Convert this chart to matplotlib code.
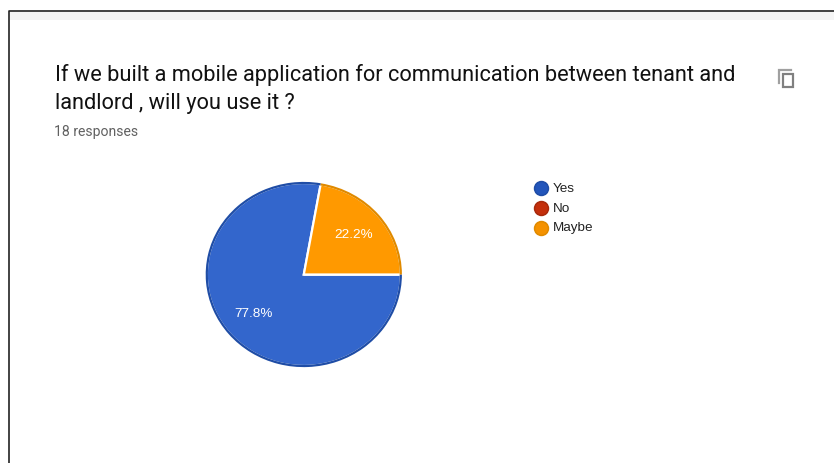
import matplotlib
matplotlib.use("Agg")
import matplotlib.pyplot as plt
from matplotlib.patches import Arc, Rectangle

W, H = 834, 463

title_lines = ["If we built a mobile application for communication between tenant and",
               "landlord , will you use it ?"]
subtitle = "18 responses"
categories = ["Yes", "No", "Maybe"]
counts = [14, 0, 4]
colors = ["#3366cc", "#dc3912", "#ff9900"]
edge_colors = ["#1f4da6", "#a82a0c", "#e08a00"]
marker_colors = ["#2255bb", "#c42f0c", "#f59200"]

fig = plt.figure(figsize=(W / 100, H / 100), dpi=100, facecolor="white")

# Page layer addressed in pixels, origin at top left
page = fig.add_axes([0, 0, 1, 1])
page.set_xlim(0, W)
page.set_ylim(H, 0)
page.axis("off")

# Card frame and the pale band under its top edge
page.add_patch(Rectangle((10, 12), W - 10, 8, fc="#f5f5f5", ec="none"))
page.plot([W, 9.5, 9.5], [11, 11, H], color="#222222", lw=1.2, solid_capstyle="butt")

page.text(55, 75.5, title_lines[0], family="Roboto", fontsize=15.67, color="#111111", va="center")
page.text(55, 103, title_lines[1], family="Roboto", fontsize=15.67, color="#111111", va="center")
page.text(54.5, 132, subtitle, family="Roboto", fontsize=10.1, color="#616161", va="center")

# Copy icon: back sheet outline and front sheet
page.plot([779, 779, 791], [83, 70, 70], color="#a0a0a0", lw=1.6, solid_joinstyle="miter")
page.add_patch(Rectangle((783, 73.5), 10.5, 13, fc="white", ec="#808080", lw=1.6))

# Legend
legend_y = [188, 208, 227.5]
for name, fc, ec, y in zip(categories, marker_colors, edge_colors, legend_y):
    page.plot(541.5, y, "o", ms=10, mfc=fc, mec=ec, mew=1.1)
    page.text(553, y + 0.5, name, family="Liberation Sans", fontsize=9.7, color="#222222", va="center")

# Pie, slightly squashed vertically
cx, cy, rx, ry = 303.8, 274.5, 97, 91.5
ax = fig.add_axes([(cx - rx) / W, 1 - (cy + ry) / H, 2 * rx / W, 2 * ry / H])
wedges, _, pct_texts = ax.pie(
    counts,
    colors=colors,
    startangle=80,
    radius=1,
    autopct=lambda p: f"{p:.1f}%" if p > 0 else "",
    pctdistance=0.67,
    wedgeprops={"edgecolor": "white", "linewidth": 1.6},
    textprops={"family": "Liberation Sans", "fontsize": 9.7, "color": "white"},
)
ax.set_aspect("auto")
ax.set_xlim(-1, 1)
ax.set_ylim(-1, 1)
ax.patch.set_alpha(0)

# Darker rim along the outer edge of each slice
for wedge, ec in zip(wedges, edge_colors):
    if wedge.theta2 - wedge.theta1 > 0:
        ax.add_patch(Arc((0, 0), 2, 2, theta1=wedge.theta1, theta2=wedge.theta2,
                         color=ec, lw=1.6, clip_on=False))

fig.savefig("out.png", dpi=100)
